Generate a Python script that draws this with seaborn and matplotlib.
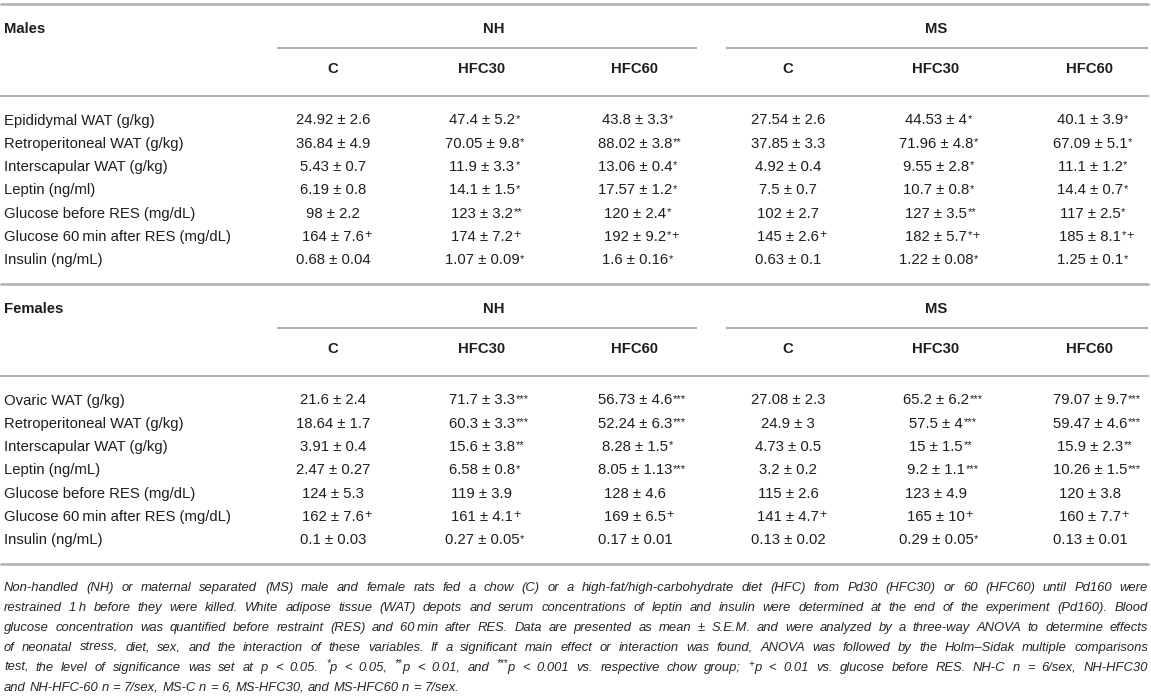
import re
import numpy as np
import pandas as pd
import matplotlib
matplotlib.use('Agg')
import matplotlib.pyplot as plt
import seaborn as sns

# row labels
rows_males = ['Epididymal WAT (g/kg)', 'Retroperitoneal WAT (g/kg)', 'Interscapular WAT (g/kg)',
              'Leptin (ng/ml)', 'Glucose before RES (mg/dL)', 'Glucose 60\u2009min after RES (mg/dL)',
              'Insulin (ng/mL)']
rows_females = ['Ovaric WAT (g/kg)', 'Retroperitoneal WAT (g/kg)', 'Interscapular WAT (g/kg)',
                'Leptin (ng/mL)', 'Glucose before RES (mg/dL)', 'Glucose 60\u2009min after RES (mg/dL)',
                'Insulin (ng/mL)']
groups = ['NH', 'MS']
diets = ['C', 'HFC30', 'HFC60']

# mean ± SEM, trailing * / + are the superscript marks
m_nh_c = ['24.92 ± 2.6', '36.84 ± 4.9', '5.43 ± 0.7', '6.19 ± 0.8', '98 ± 2.2', '164 ± 7.6+', '0.68 ± 0.04']
m_nh_hfc30 = ['47.4 ± 5.2*', '70.05 ± 9.8*', '11.9 ± 3.3*', '14.1 ± 1.5*', '123 ± 3.2**', '174 ± 7.2+', '1.07 ± 0.09*']
m_nh_hfc60 = ['43.8 ± 3.3*', '88.02 ± 3.8**', '13.06 ± 0.4*', '17.57 ± 1.2*', '120 ± 2.4*', '192 ± 9.2*+', '1.6 ± 0.16*']
m_ms_c = ['27.54 ± 2.6', '37.85 ± 3.3', '4.92 ± 0.4', '7.5 ± 0.7', '102 ± 2.7', '145 ± 2.6+', '0.63 ± 0.1']
m_ms_hfc30 = ['44.53 ± 4*', '71.96 ± 4.8*', '9.55 ± 2.8*', '10.7 ± 0.8*', '127 ± 3.5**', '182 ± 5.7*+', '1.22 ± 0.08*']
m_ms_hfc60 = ['40.1 ± 3.9*', '67.09 ± 5.1*', '11.1 ± 1.2*', '14.4 ± 0.7*', '117 ± 2.5*', '185 ± 8.1*+', '1.25 ± 0.1*']

f_nh_c = ['21.6 ± 2.4', '18.64 ± 1.7', '3.91 ± 0.4', '2.47 ± 0.27', '124 ± 5.3', '162 ± 7.6+', '0.1 ± 0.03']
f_nh_hfc30 = ['71.7 ± 3.3***', '60.3 ± 3.3***', '15.6 ± 3.8**', '6.58 ± 0.8*', '119 ± 3.9', '161 ± 4.1+', '0.27 ± 0.05*']
f_nh_hfc60 = ['56.73 ± 4.6***', '52.24 ± 6.3***', '8.28 ± 1.5*', '8.05 ± 1.13***', '128 ± 4.6', '169 ± 6.5+', '0.17 ± 0.01']
f_ms_c = ['27.08 ± 2.3', '24.9 ± 3', '4.73 ± 0.5', '3.2 ± 0.2', '115 ± 2.6', '141 ± 4.7+', '0.13 ± 0.02']
f_ms_hfc30 = ['65.2 ± 6.2***', '57.5 ± 4***', '15 ± 1.5**', '9.2 ± 1.1***', '123 ± 4.9', '165 ± 10+', '0.29 ± 0.05*']
f_ms_hfc60 = ['79.07 ± 9.7***', '59.47 ± 4.6***', '15.9 ± 2.3**', '10.26 ± 1.5***', '120 ± 3.8', '160 ± 7.7+', '0.13 ± 0.01']

caption = [
    "Non-handled (NH) or maternal separated (MS) male and female rats fed a chow (C) or a high-fat/high-carbohydrate diet (HFC) from Pd30 (HFC30) or 60 (HFC60) until Pd160 were",
    "restrained 1\u2009h before they were killed. White adipose tissue (WAT) depots and serum concentrations of leptin and insulin were determined at the end of the experiment (Pd160). Blood",
    "glucose concentration was quantified before restraint (RES) and 60\u2009min after RES. Data are presented as mean ± S.E.M. and were analyzed by a three-way ANOVA to determine effects",
    "of neonatal stress, diet, sex, and the interaction of these variables. If a significant main effect or interaction was found, ANOVA was followed by the Holm–Sidak multiple comparisons",
    "test, the level of significance was set at p < 0.05. *p < 0.05, **p < 0.01, and ***p < 0.001 vs. respective chow group; +p < 0.01 vs. glucose before RES. NH-C n = 6/sex, NH-HFC30",
    "and NH-HFC-60 n = 7/sex, MS-C n = 6, MS-HFC30, and MS-HFC60 n = 7/sex.",
]

males = pd.DataFrame({('NH', 'C'): m_nh_c, ('NH', 'HFC30'): m_nh_hfc30, ('NH', 'HFC60'): m_nh_hfc60,
                      ('MS', 'C'): m_ms_c, ('MS', 'HFC30'): m_ms_hfc30, ('MS', 'HFC60'): m_ms_hfc60},
                     index=rows_males)
females = pd.DataFrame({('NH', 'C'): f_nh_c, ('NH', 'HFC30'): f_nh_hfc30, ('NH', 'HFC60'): f_nh_hfc60,
                        ('MS', 'C'): f_ms_c, ('MS', 'HFC30'): f_ms_hfc30, ('MS', 'HFC60'): f_ms_hfc60},
                       index=rows_females)

sns.set_theme(style='white')
plt.rcParams['font.family'] = ['Liberation Sans', 'DejaVu Sans']

W, H = 1151, 697
fig = plt.figure(figsize=(W / 100, H / 100), dpi=100)
ax = fig.add_axes([0, 0, 1, 1])
ax.set_xlim(0, W)
ax.set_ylim(H, 0)
ax.axis('off')

FS = 10.7
TXT = '#1e1e1e'
LINE = '#b0b0b0'
col_x = {'NH': [333, 482, 635], 'MS': [788, 936, 1090]}
group_x = {'NH': 494, 'MS': 936}
group_span = {'NH': (277, 697), 'MS': (726, 1148)}
row_h = 23.3
BL = 4  # baseline offset from row centre


def cell(x, y, s):
    main = s.rstrip('*+')
    sup = s[len(main):]
    t = ax.text(x, y + BL, main, ha='center', va='baseline', fontsize=FS, color=TXT)
    if sup:
        stars = sup.rstrip('+')
        plus = sup[len(stars):]
        last = t
        if stars:
            last = ax.annotate(stars, xy=(1, 1), xycoords=t, xytext=(0.6, -0.3), textcoords='offset points',
                               ha='left', va='top', fontsize=8, color=TXT)
        if plus:
            ax.annotate(plus, xy=(1, 1), xycoords=t if last is t else last,
                        xytext=(0.4, 0.8 if last is t else 0.3), textcoords='offset points',
                        ha='left', va='top', fontsize=9, color=TXT)


def block(df, title, top):
    ax.plot([0, W - 2], [top, top], color=LINE, lw=1.8, solid_capstyle='butt')
    ax.text(4, top + 25 + BL, title, ha='left', va='baseline', fontsize=FS, fontweight='bold', color=TXT)
    for g in groups:
        ax.text(group_x[g], top + 25 + BL, g, ha='center', va='baseline', fontsize=FS,
                fontweight='bold', color=TXT)
        x0, x1 = group_span[g]
        ax.plot([x0, x1], [top + 44, top + 44], color=LINE, lw=1.5, solid_capstyle='butt')
        for d, x in zip(diets, col_x[g]):
            ax.text(x, top + 65 + BL, d, ha='center', va='baseline', fontsize=FS,
                    fontweight='bold', color=TXT)
    ax.plot([0, W - 2], [top + 92, top + 92], color=LINE, lw=1.5, solid_capstyle='butt')
    for i, lab in enumerate(df.index):
        y = top + 116.5 + i * row_h
        ax.text(4, y + BL, lab, ha='left', va='baseline', fontsize=FS, color=TXT)
        for g in groups:
            for d, x in zip(diets, col_x[g]):
                cell(x, y, df.loc[lab, (g, d)])


block(males, 'Males', 4)
block(females, 'Females', 284)
ax.plot([0, W - 2], [564, 564], color=LINE, lw=1.8, solid_capstyle='butt')

# caption, justified to the table width word by word
renderer = fig.canvas.get_renderer()
CFS = 9.4
CAP = '#262626'


def width(s, size):
    t = ax.text(0, 0, s, fontsize=size, style='italic')
    w = t.get_window_extent(renderer).width
    t.remove()
    return w


space_w = width('a a', CFS) - width('aa', CFS)
x_left, x_right = 4, 1148
for li, line in enumerate(caption):
    y = 587 + li * 20 + 4
    words = line.split(' ')
    parts = []
    for w in words:
        m = re.match(r'^([*+]+)(p)$', w)
        if m:
            sw = width(m.group(1), 7)
            parts.append((m.group(1), m.group(2), sw + width(m.group(2), CFS)))
        else:
            parts.append(('', w, width(w, CFS)))
    total = sum(p[2] for p in parts)
    if li < len(caption) - 1:
        gap = (x_right - x_left - total) / (len(parts) - 1)
    else:
        gap = space_w
    x = x_left
    for sup, rest, w in parts:
        if sup:
            ax.text(x, y - 4.5, sup, ha='left', va='baseline', fontsize=7, style='italic', color=CAP)
            ax.text(x + width(sup, 7), y, rest, ha='left', va='baseline', fontsize=CFS, style='italic', color=CAP)
        else:
            ax.text(x, y, rest, ha='left', va='baseline', fontsize=CFS, style='italic', color=CAP)
        x += w + gap

fig.savefig('out.png', dpi=100, facecolor='white')
